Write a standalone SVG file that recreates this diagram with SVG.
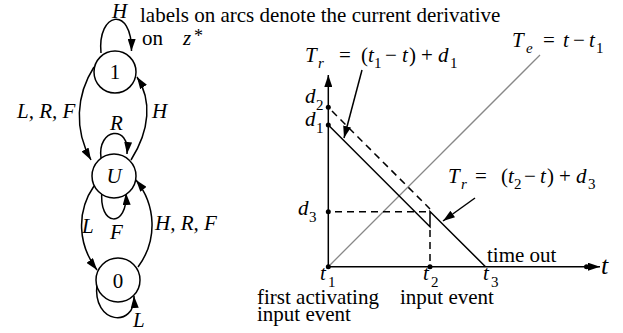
<svg xmlns="http://www.w3.org/2000/svg" width="623" height="333" viewBox="0 0 623 333">
<style>
text{font-family:"Liberation Serif","Times New Roman",serif;font-size:21px;fill:#000}
.i{font-style:italic}
.s{font-size:15px}
.node{fill:#fff;stroke:#000;stroke-width:1.5}
.edge{fill:none;stroke:#000;stroke-width:1.5}
.ln{fill:none;stroke:#000;stroke-width:1.5}
.dash{fill:none;stroke:#000;stroke-width:1.5;stroke-dasharray:7 5}
.gray{fill:none;stroke:#888;stroke-width:1.3}
</style>
<defs>
<marker id="ah" viewBox="0 0 12 8" refX="12" refY="4" markerWidth="12" markerHeight="8" markerUnits="userSpaceOnUse" orient="auto">
<path d="M0,0 L12,4 L0,8 z" fill="#000"/>
</marker>
</defs>
<rect width="623" height="333" fill="#fff"/>

<!-- state diagram -->
<g id="connectors">
<path class="edge" d="M101,53 C97,12 132,5 131.5,51" marker-end="url(#ah)"/>
<path class="edge" d="M94,67 C76,95 74,130 91,160" marker-end="url(#ah)"/>
<path class="edge" d="M131,160 C150,130 152,100 137,77" marker-end="url(#ah)"/>
<path class="edge" d="M101,158 C97,128 130,124 127,154" marker-end="url(#ah)"/>
<path class="edge" d="M102,190 C98,228 128,228 126,193" marker-end="url(#ah)"/>
<path class="edge" d="M94,186 C76,212 78,245 97,270" marker-end="url(#ah)"/>
<path class="edge" d="M138,267 C158,240 156,205 136,180" marker-end="url(#ah)"/>
<path class="edge" d="M97,284 C92,325 136,328 134,296" marker-end="url(#ah)"/>
<text class="i" x="112" y="18">H</text>
<text class="i" x="17" y="118">L, R, F</text>
<text class="i" x="152" y="118">H</text>
<text class="i" x="110" y="130">R</text>
<text class="i" x="110" y="239">F</text>
<text class="i" x="82" y="233">L</text>
<text class="i" x="155" y="230">H, R, F</text>
<text class="i" x="133" y="327">L</text>
</g>
<g id="node-1">
<circle class="node" cx="115" cy="72" r="21"/>
<text x="115" y="79" text-anchor="middle">1</text>
</g>
<g id="node-U">
<circle class="node" cx="114" cy="176" r="22"/>
<text class="i" x="114" y="183" text-anchor="middle">U</text>
</g>
<g id="node-0">
<circle class="node" cx="118" cy="280" r="22"/>
<text x="118" y="288" text-anchor="middle">0</text>
</g>

<text x="140" y="22">labels on arcs denote the current derivative</text>
<text x="142" y="45">on</text>
<text class="i" x="183" y="45">z</text>
<text x="194" y="42" style="font-size:18px">*</text>

<!-- timing chart -->
<g id="chart">
<line class="gray" x1="328.3" y1="266.7" x2="540" y2="55"/>
<line class="ln" x1="328.3" y1="266.7" x2="328.3" y2="75" marker-end="url(#ah)"/>
<line class="ln" x1="328.3" y1="266.7" x2="600" y2="266.7" marker-end="url(#ah)"/>
<polyline class="ln" points="328.3,125 430,226.7 430,211.5 485.5,266.7"/>
<line class="dash" x1="332" y1="111" x2="430" y2="209"/>
<line class="dash" x1="335" y1="211.7" x2="430" y2="211.7"/>
<line class="dash" x1="430" y1="230" x2="430" y2="266.7"/>
<g fill="#000">
<circle cx="328.3" cy="107.3" r="2.5"/>
<circle cx="328.3" cy="125" r="2.5"/>
<circle cx="328.3" cy="211.7" r="2.5"/>
<circle cx="328.3" cy="266.7" r="2.5"/>
<circle cx="430" cy="266.7" r="2.5"/>
<circle cx="586.5" cy="266.7" r="2.5"/>
</g>
<line class="ln" x1="362" y1="70" x2="344" y2="138" marker-end="url(#ah)"/>
<line class="ln" x1="475" y1="198" x2="443" y2="221" marker-end="url(#ah)"/>

<text class="i" x="305" y="103">d</text><text class="s" x="316" y="110">2</text>
<text class="i" x="305" y="126">d</text><text class="s" x="316" y="133">1</text>
<text class="i" x="298" y="215">d</text><text class="s" x="309" y="222">3</text>

<text class="i" x="320" y="280">t</text><text class="s" x="328" y="287">1</text>
<text class="i" x="423" y="280">t</text><text class="s" x="431" y="287">2</text>
<text class="i" x="483" y="280">t</text><text class="s" x="491" y="287">3</text>
<text class="i" x="601" y="274" style="font-size:26px">t</text>

<text x="487" y="262">time out</text>
<text x="257" y="304">first activating</text>
<text x="257" y="321">input event</text>
<text x="400" y="304">input event</text>

<text class="i" x="305" y="62">T</text><text class="i s" x="318" y="68">r</text>
<text x="339" y="62">=</text>
<text x="361" y="62">(</text><text class="i" x="368" y="62">t</text><text class="s" x="374" y="68">1</text>
<text x="385" y="62">−</text><text class="i" x="402" y="62">t</text><text x="409" y="62">)</text>
<text x="421" y="62">+</text><text class="i" x="438" y="62">d</text><text class="s" x="450" y="68">1</text>

<text class="i" x="512" y="47">T</text><text class="i s" x="526" y="53">e</text>
<text x="543" y="47">=</text>
<text class="i" x="563" y="47">t</text><text x="573" y="47">−</text>
<text class="i" x="589" y="47">t</text><text class="s" x="596" y="53">1</text>

<text class="i" x="448" y="183">T</text><text class="i s" x="461" y="189">r</text>
<text x="475" y="183">=</text>
<text x="501" y="183">(</text><text class="i" x="508" y="183">t</text><text class="s" x="514" y="189">2</text>
<text x="524" y="183">−</text><text class="i" x="540" y="183">t</text><text x="547" y="183">)</text>
<text x="559" y="183">+</text><text class="i" x="576" y="183">d</text><text class="s" x="588" y="189">3</text>
</g>
</svg>
